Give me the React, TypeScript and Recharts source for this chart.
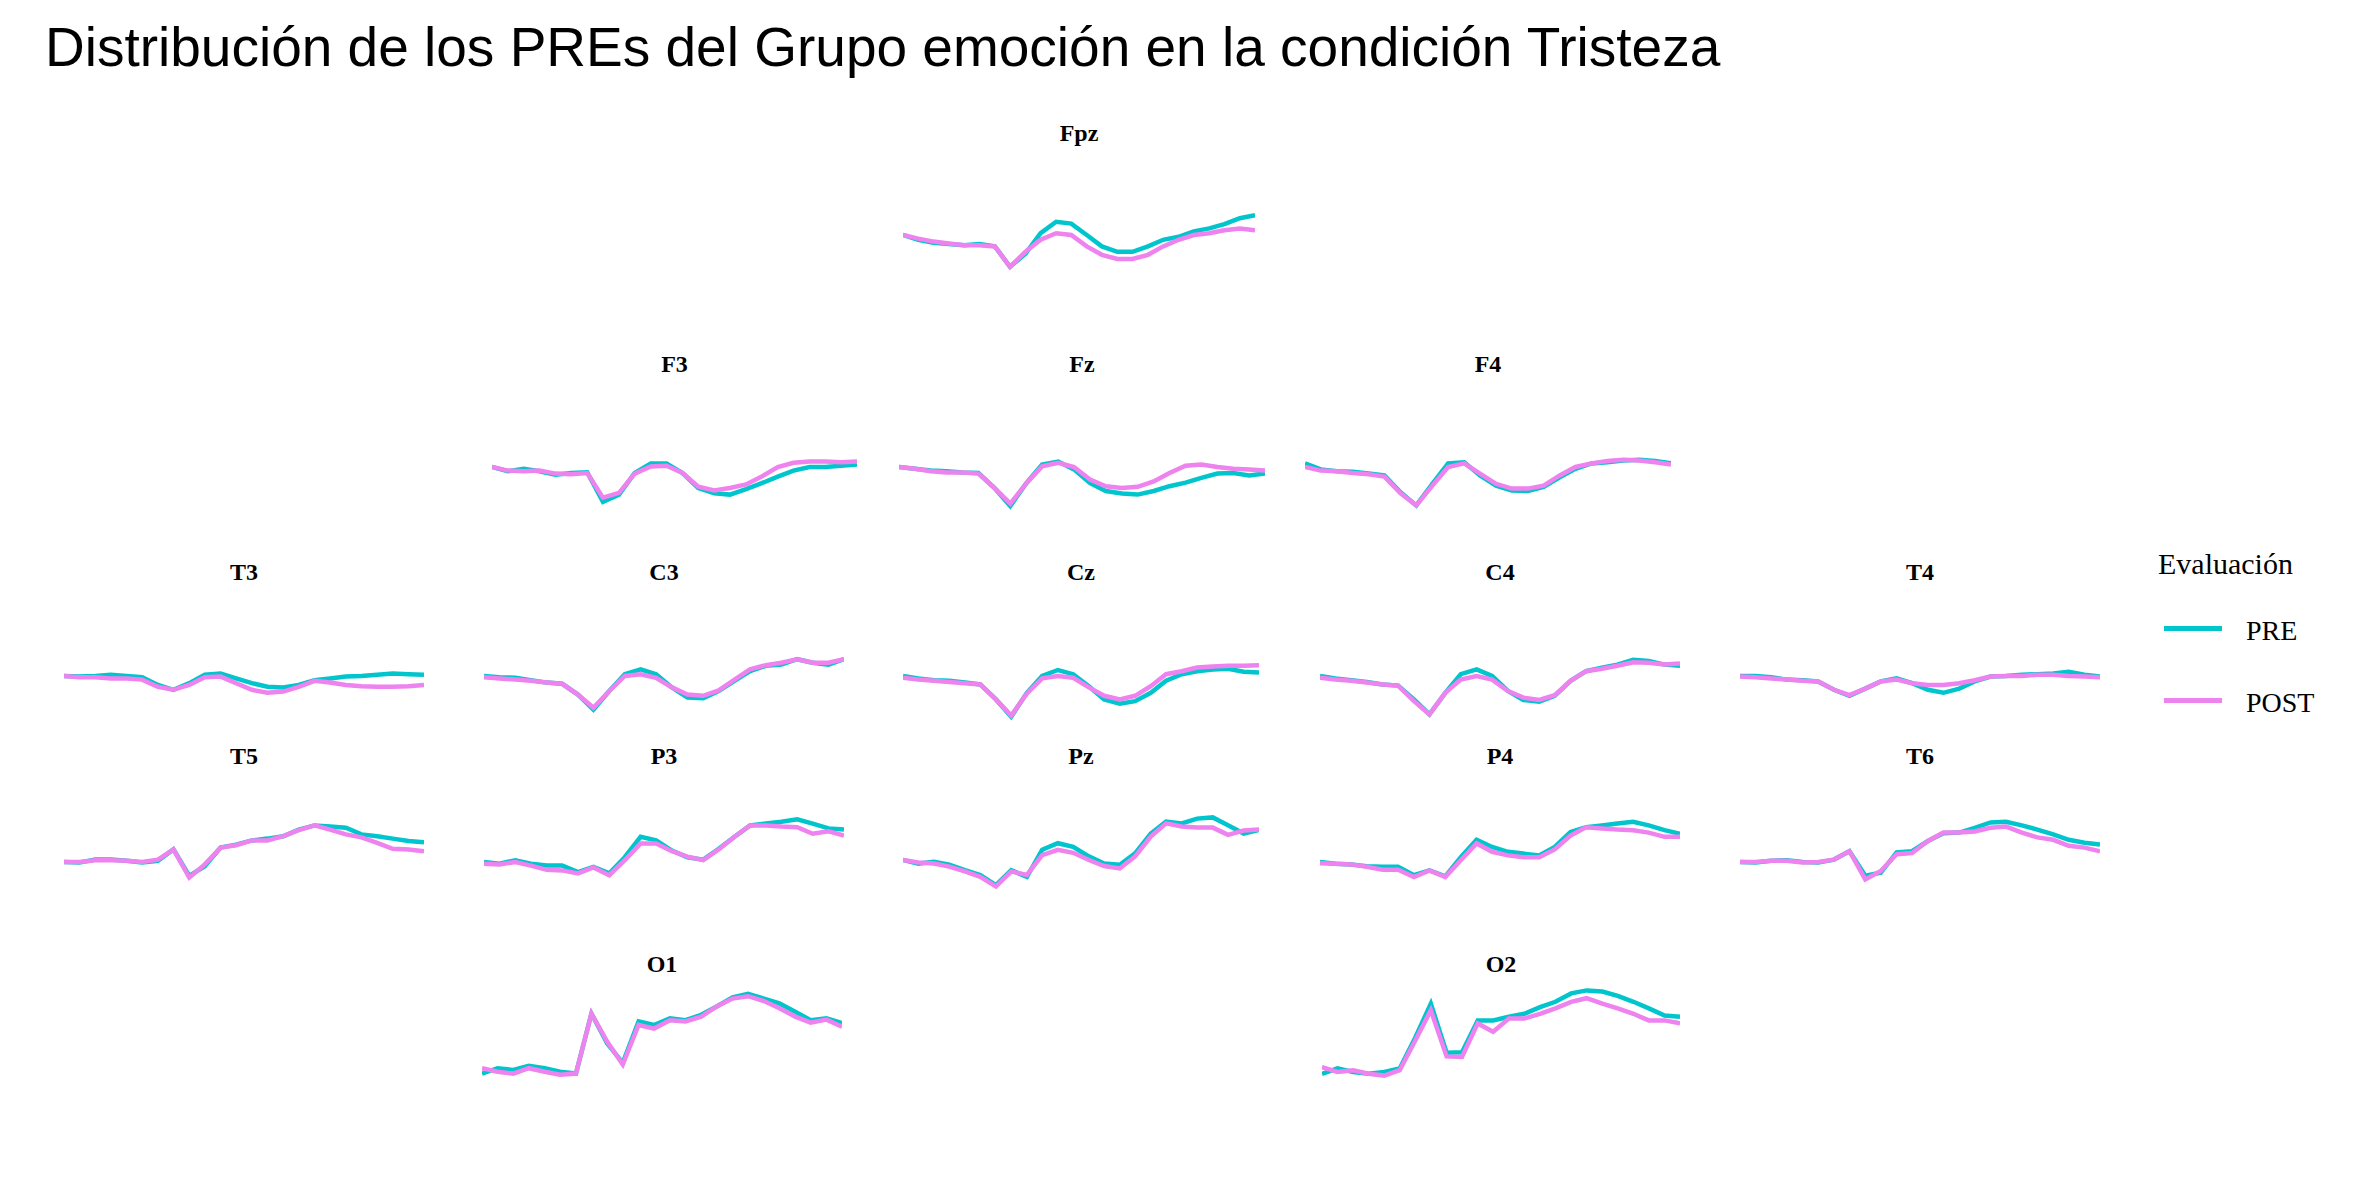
import React from "react";
import { LineChart, Line, XAxis, YAxis } from "recharts";

// time points (ms), shared by every electrode
const times = [-200, -157, -113, -70, -26, 17, 61, 104, 148, 191, 235, 278, 322, 365, 409, 452, 496, 539, 583, 626, 670, 713, 757, 800];

// mean amplitude (µV) per electrode, PRE and POST
const fpzPre = [0, -0.8, -1.3, -1.5, -1.7, -1.5, -1.9, -5.3, -3.1, 0.3, 2.2, 1.9, 0, -1.9, -2.8, -2.8, -1.9, -0.8, -0.3, 0.6, 1.1, 1.8, 2.8, 3.3];
const fpzPost = [0, -0.6, -1.1, -1.4, -1.7, -1.7, -1.9, -5.3, -2.8, -0.8, 0.3, 0, -1.9, -3.3, -4, -4, -3.3, -1.9, -0.8, 0, 0.3, 0.8, 1.1, 0.8];
const f3Pre = [0, -0.7, -0.3, -0.7, -1.3, -1, -0.9, -5.8, -4.6, -1, 0.6, 0.6, -1, -3.5, -4.4, -4.6, -3.7, -2.7, -1.6, -0.6, 0, 0, 0.2, 0.4];
const f3Post = [0, -0.6, -0.7, -0.6, -1.1, -1.2, -1, -5.1, -4.3, -1.1, 0.1, 0.2, -1, -3.3, -3.9, -3.5, -2.9, -1.6, 0, 0.7, 0.9, 0.9, 0.8, 0.9];
const fzPre = [0, -0.3, -0.6, -0.7, -0.9, -1, -3.5, -6.5, -2.7, 0.4, 0.9, -0.4, -2.7, -4, -4.4, -4.6, -4, -3.2, -2.6, -1.8, -1.1, -1, -1.4, -1.1];
const fzPost = [0, -0.3, -0.7, -0.9, -0.9, -1.1, -3.5, -6.1, -2.7, 0.1, 0.7, 0, -2.1, -3.2, -3.5, -3.3, -2.4, -1, 0.2, 0.4, 0, -0.3, -0.4, -0.6];
const f4Pre = [0.6, -0.4, -0.7, -0.8, -1.1, -1.4, -4.2, -6.4, -2.8, 0.6, 0.8, -1.4, -3.1, -3.9, -4, -3.3, -1.7, -0.3, 0.6, 0.8, 1.1, 1.2, 1, 0.6];
const f4Post = [0, -0.6, -0.7, -1, -1.2, -1.6, -4.4, -6.4, -3.1, 0, 0.6, -1.1, -2.8, -3.6, -3.6, -3.1, -1.4, 0, 0.6, 1, 1.2, 1.1, 0.8, 0.4];
const t3Pre = [0, -0.1, 0, 0.2, 0, -0.2, -1.5, -2.3, -1.2, 0.2, 0.4, -0.4, -1.2, -1.8, -1.9, -1.5, -0.7, -0.4, -0.1, 0, 0.2, 0.4, 0.3, 0.2];
const t3Post = [0, -0.2, -0.2, -0.4, -0.4, -0.6, -1.8, -2.3, -1.5, -0.2, -0.1, -1.2, -2.3, -2.8, -2.6, -1.8, -0.8, -1.1, -1.5, -1.7, -1.8, -1.8, -1.7, -1.5];
const c3Pre = [0, -0.2, -0.3, -0.7, -1.1, -1.3, -3.1, -5.6, -2.5, 0.3, 1.1, 0.3, -1.9, -3.6, -3.7, -2.5, -0.8, 0.8, 1.7, 1.9, 2.8, 2.2, 1.9, 2.8];
const c3Post = [-0.2, -0.4, -0.6, -0.8, -1.1, -1.3, -3.1, -5.3, -2.5, 0, 0.3, -0.3, -1.9, -3.1, -3.3, -2.4, -0.6, 1.1, 1.8, 2.2, 2.8, 2.2, 2.2, 2.8];
const czPre = [0, -0.4, -0.7, -0.8, -1.1, -1.4, -3.9, -6.8, -2.8, 0, 1, 0.3, -1.7, -3.9, -4.6, -4.2, -2.8, -0.8, 0.3, 0.8, 1.1, 1.2, 0.7, 0.6];
const czPost = [-0.3, -0.6, -0.8, -1, -1.2, -1.4, -3.9, -6.6, -2.9, -0.4, 0, -0.3, -1.9, -3.3, -3.9, -3.3, -1.7, 0.3, 0.8, 1.4, 1.6, 1.7, 1.7, 1.8];
const c4Pre = [0, -0.4, -0.7, -1, -1.4, -1.6, -3.9, -6.4, -2.8, 0.3, 1.1, 0, -2.5, -4, -4.3, -3.3, -0.8, 0.8, 1.4, 1.9, 2.7, 2.5, 1.9, 1.7];
const c4Post = [-0.3, -0.6, -0.8, -1.1, -1.4, -1.6, -4.2, -6.4, -2.8, -0.6, 0, -0.6, -2.5, -3.6, -4, -3.2, -0.8, 0.8, 1.2, 1.7, 2.3, 2.2, 1.9, 2.1];
const t4Pre = [0, 0, -0.2, -0.6, -0.7, -0.9, -2.3, -3.3, -2.1, -0.9, -0.4, -1.2, -2.3, -2.8, -2.1, -0.9, -0.1, 0, 0.2, 0.3, 0.4, 0.7, 0.2, -0.1];
const t4Post = [-0.1, -0.2, -0.4, -0.6, -0.8, -0.9, -2.3, -3.2, -2.1, -0.9, -0.6, -1.2, -1.5, -1.5, -1.2, -0.7, -0.1, 0, 0, 0.2, 0.2, 0, -0.1, -0.2];
const t5Pre = [0, -0.1, 0.4, 0.4, 0.2, -0.1, 0.2, 2.1, -2.3, -0.7, 2.4, 2.9, 3.6, 3.9, 4.3, 5.4, 6.1, 5.9, 5.7, 4.6, 4.3, 3.9, 3.5, 3.3];
const t5Post = [0, 0, 0.3, 0.3, 0.2, 0, 0.4, 2.1, -2.6, -0.4, 2.4, 2.8, 3.6, 3.6, 4.3, 5.3, 6.1, 5.4, 4.6, 4.1, 3.2, 2.2, 2.1, 1.8];
const p3Pre = [0, -0.3, 0.3, -0.3, -0.6, -0.6, -1.7, -0.8, -1.9, 0.8, 4.2, 3.6, 1.9, 0.8, 0.4, 2.2, 4.2, 6.1, 6.4, 6.7, 7.1, 6.4, 5.6, 5.4];
const p3Post = [-0.3, -0.4, 0, -0.6, -1.3, -1.4, -1.9, -0.9, -2.2, 0.3, 3.1, 3.1, 1.8, 0.9, 0.3, 2.1, 4.2, 6.1, 6.1, 5.9, 5.8, 4.7, 5.1, 4.4];
const pzPre = [0, -0.6, -0.3, -0.8, -1.7, -2.5, -4.2, -1.7, -2.8, 1.7, 2.8, 2.2, 0.6, -0.6, -0.8, 1.1, 4.4, 6.4, 6.1, 6.9, 7.1, 5.8, 4.4, 5];
const pzPost = [0, -0.4, -0.6, -1.1, -1.9, -2.8, -4.4, -1.9, -2.5, 0.8, 1.7, 1.2, 0, -1, -1.4, 0.6, 3.9, 6.1, 5.6, 5.4, 5.4, 4.2, 4.9, 5.1];
const p4Pre = [0, -0.3, -0.4, -0.7, -0.8, -0.8, -2.2, -1.4, -2.4, 0.8, 3.7, 2.5, 1.7, 1.4, 1.1, 2.5, 5, 5.8, 6.1, 6.4, 6.7, 6.1, 5.3, 4.7];
const p4Post = [-0.2, -0.3, -0.4, -0.8, -1.3, -1.3, -2.5, -1.4, -2.5, 0.3, 3.1, 1.7, 1.1, 0.8, 0.8, 2.1, 4.4, 5.8, 5.6, 5.4, 5.3, 4.9, 4.2, 4.2];
const t6Pre = [0, -0.1, 0.2, 0.3, 0, -0.1, 0.4, 1.8, -2.3, -1.8, 1.6, 1.8, 3.5, 4.8, 4.9, 5.7, 6.6, 6.7, 6.1, 5.4, 4.6, 3.7, 3.2, 2.9];
const t6Post = [0, 0, 0.2, 0.2, -0.1, 0, 0.4, 1.8, -2.9, -1.5, 1.3, 1.5, 3.5, 4.9, 4.9, 5.1, 5.7, 5.9, 4.9, 4.1, 3.7, 2.7, 2.4, 1.8];
const o1Pre = [-0.6, 0.3, 0, 0.7, 0.3, -0.3, -0.6, 9.4, 4.4, 1.2, 8.1, 7.5, 8.6, 8.3, 9.2, 10.6, 12.1, 12.7, 11.9, 11.1, 9.7, 8.3, 8.6, 7.8];
const o1Post = [0.3, -0.3, -0.6, 0.3, -0.3, -0.8, -0.6, 9.4, 4.7, 0.9, 7.5, 6.9, 8.3, 8.1, 8.9, 10.6, 11.9, 12.3, 11.5, 10.3, 8.9, 7.9, 8.4, 7.2];
const o2Pre = [-0.3, 0.6, 0, -0.3, 0, 0.6, 5.8, 11.4, 3.2, 3.3, 8.6, 8.6, 9.2, 9.7, 10.8, 11.7, 13.1, 13.6, 13.4, 12.7, 11.7, 10.6, 9.4, 9.2];
const o2Post = [0.8, 0, 0.3, -0.3, -0.6, 0.3, 5.3, 10.3, 2.6, 2.5, 8.1, 6.7, 8.9, 8.9, 9.7, 10.6, 11.7, 12.3, 11.4, 10.6, 9.7, 8.6, 8.6, 8.1];

const PRE_COLOR = "#00C5CD";
const POST_COLOR = "#EE82EE";
const PX_PER_UV = 6;
const PANEL_H = 200;

// name, pre, post, left, width, baseline y, label y
const panels: [string, number[], number[], number, number, number, number][] = [
  ["Fpz", fpzPre, fpzPost, 903, 352, 235, 133],
  ["F3", f3Pre, f3Post, 492, 365, 467, 364],
  ["Fz", fzPre, fzPost, 899, 366, 467, 364],
  ["F4", f4Pre, f4Post, 1305, 366, 467, 364],
  ["T3", t3Pre, t3Post, 64, 360, 676, 572],
  ["C3", c3Pre, c3Post, 484, 360, 676, 572],
  ["Cz", czPre, czPost, 903, 356, 676, 572],
  ["C4", c4Pre, c4Post, 1320, 360, 676, 572],
  ["T4", t4Pre, t4Post, 1740, 360, 676, 572],
  ["T5", t5Pre, t5Post, 64, 360, 862, 756],
  ["P3", p3Pre, p3Post, 484, 360, 862, 756],
  ["Pz", pzPre, pzPost, 903, 356, 860, 756],
  ["P4", p4Pre, p4Post, 1320, 360, 862, 756],
  ["T6", t6Pre, t6Post, 1740, 360, 862, 756],
  ["O1", o1Pre, o1Post, 482, 360, 1070, 964],
  ["O2", o2Pre, o2Post, 1322, 358, 1072, 964],
];

function Panel({ name, pre, post, left, width, base, labelY }: any) {
  const data = times.map((t, i) => ({ t, pre: pre[i], post: post[i] }));
  const half = PANEL_H / 2 / PX_PER_UV;
  return (
    <>
      <div style={{ position: "absolute", left, width, top: labelY - 15, textAlign: "center", fontFamily: "Liberation Serif", fontWeight: "bold", fontSize: 24, lineHeight: "30px" }}>
        {name}
      </div>
      <div style={{ position: "absolute", left, top: base - PANEL_H / 2 }}>
        <LineChart width={width} height={PANEL_H} data={data} margin={{ top: 0, right: 0, bottom: 0, left: 0 }}>
          <XAxis dataKey="t" type="number" domain={[-200, 800]} hide />
          <YAxis domain={[-half, half]} hide />
          <Line dataKey="pre" stroke={PRE_COLOR} strokeWidth={4.5} dot={false} type="linear" isAnimationActive={false} />
          <Line dataKey="post" stroke={POST_COLOR} strokeWidth={4.5} dot={false} type="linear" isAnimationActive={false} />
        </LineChart>
      </div>
    </>
  );
}

export default function App() {
  return (
    <div style={{ position: "relative", width: 2362, height: 1181, margin: -8, background: "#fff", overflow: "hidden" }}>
      <div style={{ position: "absolute", left: 45, top: 20, fontFamily: "Liberation Sans", fontSize: 55, lineHeight: 1, whiteSpace: "nowrap" }}>
        Distribución de los PREs del Grupo emoción en la condición Tristeza
      </div>
      {panels.map(([name, pre, post, left, width, base, labelY]) => (
        <Panel key={name} name={name} pre={pre} post={post} left={left} width={width} base={base} labelY={labelY} />
      ))}
      <div style={{ position: "absolute", left: 2158, top: 549, fontFamily: "Liberation Serif", fontSize: 30, lineHeight: 1 }}>Evaluación</div>
      <div style={{ position: "absolute", left: 2164, top: 626, width: 58, height: 5, background: PRE_COLOR }} />
      <div style={{ position: "absolute", left: 2246, top: 617, fontFamily: "Liberation Serif", fontSize: 28, lineHeight: 1 }}>PRE</div>
      <div style={{ position: "absolute", left: 2164, top: 698, width: 58, height: 5, background: POST_COLOR }} />
      <div style={{ position: "absolute", left: 2246, top: 689, fontFamily: "Liberation Serif", fontSize: 28, lineHeight: 1 }}>POST</div>
    </div>
  );
}
